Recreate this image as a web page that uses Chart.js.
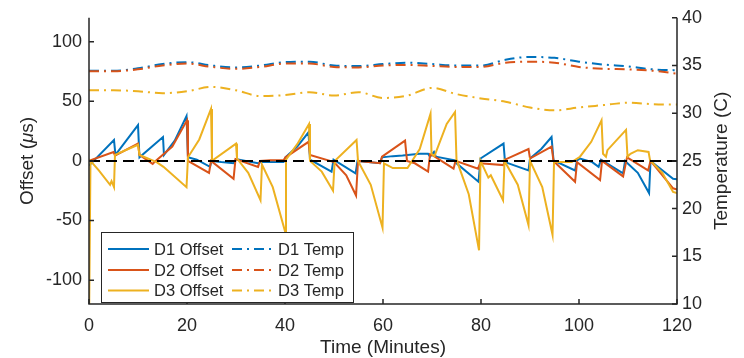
<!DOCTYPE html>
<html>
<head>
<meta charset="utf-8">
<script src="https://cdn.jsdelivr.net/npm/chart.js@4/dist/chart.umd.min.js"></script>
<style>
    html, body { margin: 0; padding: 0; background: #fff; }
    #chart { display: block; }
</style>
</head>
<body>
<canvas id="chart" width="744" height="358"></canvas>
<script>
// [minutes, microseconds]
const d1Offset = [[0,-4],[5.1,17.5],[5.4,5],[10,30],[10.3,3],[15.1,20],[15.3,5],[17.5,17],[19.9,37.5],[20.2,3],[22,1],[24.7,-5],[25,0],[27,-1],[29.5,-2],[30,1.5],[32,0],[34.5,-2],[35,-1],[37,-1],[39.7,-1],[40.1,3],[42.5,12],[44.8,24],[45.1,1],[49.5,-9],[49.9,1],[54.4,-10.5],[54.8,0],[57,-1],[59.4,-2],[59.8,3],[62,4],[64,4.5],[67.5,6],[69.2,6],[69.6,3.5],[70.4,7.5],[70.8,3.5],[74.7,0.5],[75,-2],[79.5,-17.5],[79.9,2],[84.6,14.5],[84.9,-1],[89.7,-8],[90,2],[92.3,10],[94.4,20],[94.8,0.5],[99.2,-8],[99.6,0.5],[100.2,2],[102.7,-1],[104,-5],[104.5,1],[109,-10.5],[109.4,0],[112,-10],[114.3,-27],[114.6,0],[119.2,-15],[120,-15.5]];
const d2Offset = [[0,0],[5,7.5],[5.3,4.5],[10,14.5],[10.3,5],[13,-2.5],[13.6,0],[17,12],[20,34],[20.2,0],[24.5,-10],[24.9,0],[29.5,-15],[29.9,1.5],[34.5,-5],[34.9,0],[37,0.5],[39.7,0.5],[40.1,3],[44.8,16],[45.1,5],[50,-1],[52.5,-12],[54.5,-29],[54.9,0],[57,-1],[59.4,-2],[59.8,3.5],[64.5,17],[64.9,0],[66.5,-2],[69.2,-9],[69.6,5.5],[70.4,4],[74.4,-6.5],[74.8,0],[79.4,-6.5],[79.8,-2],[84.6,-3.5],[84.9,1],[89.7,10],[90,2],[94.4,12],[94.8,0],[99.2,-17.5],[99.6,-1],[104.3,-16],[104.7,0],[109,-13],[109.8,3],[114.1,-8],[114.6,0],[119.2,-23],[120,-24]];
const d3Offset = [[0,-140],[0.3,0],[2,-8],[4.3,-20],[4.6,-17],[5.1,-22],[5.3,5],[10,13.5],[10.3,5],[13.8,-1],[15.2,-5],[19.9,-22],[20.2,3],[22.5,18],[24.9,43.6],[25.1,0],[30,14.5],[30.2,2],[32.5,-10],[35,-33],[35.3,-3],[37.5,-22],[40,-59],[40.2,1],[42.5,14],[44.9,31],[45.1,0],[47.5,-9],[49.8,-25],[50.1,-3],[50.4,1],[54.6,17.5],[54.9,0],[57.5,-20],[59.9,-56],[60.2,-2],[62,-6],[65,-6],[67.5,10],[69.7,39.5],[69.9,6],[70.5,4],[73,31],[74.7,41],[75,1],[77.5,-28],[79.6,-75],[79.9,0],[81.5,-14],[82,-12],[84.5,-33],[84.8,0],[87.5,-20],[89.7,-54],[90,0],[92.5,-22],[94.6,-62],[94.9,-1],[98.5,-1],[100.2,3.5],[102.5,16],[104.6,34],[104.9,6],[105.5,3.5],[105.8,9],[109.6,26],[109.9,3.5],[110.5,6],[112,9],[114.2,7.5],[114.5,0.5],[117,-10],[119.2,-26],[120,-27]];

const tempTimes = [0,5,10,15,20,25,30,35,40,45,50,55,60,65,70,75,80,85,90,95,100,105,110,115,120];
const d1Temp = [34.45,34.45,34.7,35.15,35.35,35.0,34.8,35.0,35.35,35.4,35.0,34.95,35.15,35.3,35.15,35.0,35.0,35.6,35.9,35.8,35.4,35.1,34.9,34.6,34.5];
const d2Temp = [34.4,34.4,34.6,35.0,35.2,34.85,34.65,34.85,35.2,35.2,34.85,34.8,35.0,35.05,34.95,34.85,34.85,35.3,35.4,35.3,34.85,34.65,34.6,34.45,34.15];
const d3Temp = [32.4,32.4,32.3,32.1,32.3,32.75,32.4,31.8,31.9,32.2,31.85,32.2,31.6,31.85,32.65,32.0,31.55,31.2,30.6,30.3,30.6,30.85,31.1,30.95,30.9];

const timeTicks = [0,20,40,60,80,100,120];
const offsetTicks = [-100,-50,0,50,100];
const tempTicks = [10,15,20,25,30,35,40];

const colors = ['#0072BD', '#D95319', '#EDB120'];
const axisColor = '#262626';
const fontFamily = '"Liberation Sans", Arial, Helvetica, sans-serif';
const dashDot = [10, 5, 2, 5];

const toPoints = arr => arr.map(p => ({x: p[0], y: p[1]}));
const tempPoints = vals => vals.map((v, i) => ({x: tempTimes[i], y: v}));

const legendItems = [
    {text: 'D1 Offset', color: colors[0], dash: []},
    {text: 'D2 Offset', color: colors[1], dash: []},
    {text: 'D3 Offset', color: colors[2], dash: []},
    {text: 'D1 Temp', color: colors[0], dash: dashDot},
    {text: 'D2 Temp', color: colors[1], dash: dashDot},
    {text: 'D3 Temp', color: colors[2], dash: dashDot},
];

// draws pieces of text one after the other, centred as a whole
function drawPieces(ctx, pieces, cx, cy) {
    let total = 0;
    pieces.forEach(p => { ctx.font = p.font; total += ctx.measureText(p.text).width; });
    let x = cx - total / 2;
    ctx.textAlign = 'left';
    pieces.forEach(p => {
        ctx.font = p.font;
        ctx.fillText(p.text, x, cy);
        x += ctx.measureText(p.text).width;
    });
}

const framePlugin = {
    id: 'frame',
    afterDraw(chart) {
        const ctx = chart.ctx;
        const a = chart.chartArea;
        const sx = chart.scales.x, sy = chart.scales.y, sy2 = chart.scales.y2;
        ctx.save();
        ctx.strokeStyle = axisColor;
        ctx.lineWidth = 1.5;
        ctx.setLineDash([]);
        ctx.beginPath();
        ctx.moveTo(a.left, a.top);
        ctx.lineTo(a.left, a.bottom);
        ctx.lineTo(a.right, a.bottom);
        ctx.lineTo(a.right, a.top);
        ctx.stroke();
        const tl = 5;
        ctx.beginPath();
        timeTicks.forEach(v => {
            const px = sx.getPixelForValue(v);
            ctx.moveTo(px, a.bottom);
            ctx.lineTo(px, a.bottom - tl);
        });
        offsetTicks.forEach(v => {
            const py = sy.getPixelForValue(v);
            ctx.moveTo(a.left, py);
            ctx.lineTo(a.left + tl, py);
        });
        tempTicks.forEach(v => {
            const py = sy2.getPixelForValue(v);
            ctx.moveTo(a.right, py);
            ctx.lineTo(a.right - tl, py);
        });
        ctx.stroke();

        // axis titles
        const titleFont = '19px ' + fontFamily;
        ctx.fillStyle = axisColor;
        ctx.font = titleFont;
        ctx.textAlign = 'center';
        ctx.textBaseline = 'middle';
        ctx.fillText('Time (Minutes)', (a.left + a.right) / 2, 348);
        ctx.save();
        ctx.translate(28, (a.top + a.bottom) / 2);
        ctx.rotate(-Math.PI / 2);
        drawPieces(ctx, [
            {text: 'Offset (', font: titleFont},
            {text: 'μ', font: 'italic ' + titleFont},
            {text: 's)', font: titleFont}
        ], 0, 0);
        ctx.restore();
        ctx.save();
        ctx.font = titleFont;
        ctx.textAlign = 'center';
        ctx.translate(722, (a.top + a.bottom) / 2);
        ctx.rotate(-Math.PI / 2);
        ctx.fillText('Temperature (C)', 0, 0);
        ctx.restore();

        // legend
        const bx = 101, by = 232, bw = 252, bh = 70;
        ctx.fillStyle = '#fff';
        ctx.fillRect(bx, by, bw, bh);
        ctx.lineWidth = 1;
        ctx.strokeStyle = axisColor;
        ctx.strokeRect(bx + 0.5, by + 0.5, bw, bh);
        ctx.font = '16.5px ' + fontFamily;
        ctx.textAlign = 'left';
        const rows = [249, 270, 290.5];
        legendItems.forEach((item, i) => {
            const col = Math.floor(i / 3);
            const row = i % 3;
            const lx = col === 0 ? 108 : 232;
            const y = rows[row];
            ctx.strokeStyle = item.color;
            ctx.lineWidth = 2;
            ctx.setLineDash(item.dash);
            ctx.beginPath();
            ctx.moveTo(lx, y);
            ctx.lineTo(lx + 41, y);
            ctx.stroke();
            ctx.setLineDash([]);
            ctx.fillStyle = axisColor;
            ctx.fillText(item.text, lx + 46, y + 1);
        });
        ctx.restore();
    }
};

const offsetSet = (label, data, color, order) => ({
    label, data: toPoints(data), yAxisID: 'y', borderColor: color, borderWidth: 2,
    pointRadius: 0, tension: 0, order
});
const tempSet = (label, data, color, order) => ({
    label, data: tempPoints(data), yAxisID: 'y2', borderColor: color, borderWidth: 2,
    borderDash: dashDot, pointRadius: 0, cubicInterpolationMode: 'monotone', order
});

const tickFont = {size: 18, family: fontFamily};

new Chart(document.getElementById('chart'), {
    type: 'line',
    data: {
        datasets: [
            {label: 'zero', data: [{x: 0, y: 0}, {x: 120, y: 0}], yAxisID: 'y', borderColor: '#000',
                borderWidth: 2, borderDash: [11, 6], pointRadius: 0, order: 0},
            offsetSet('D3 Offset', d3Offset, colors[2], 1),
            offsetSet('D2 Offset', d2Offset, colors[1], 2),
            offsetSet('D1 Offset', d1Offset, colors[0], 3),
            tempSet('D3 Temp', d3Temp, colors[2], 4),
            tempSet('D2 Temp', d2Temp, colors[1], 5),
            tempSet('D1 Temp', d1Temp, colors[0], 6),
        ]
    },
    options: {
        responsive: false,
        animation: false,
        devicePixelRatio: 1,
        layout: {padding: {top: 15, left: 0, right: 0, bottom: 0}},
        plugins: {legend: {display: false}, tooltip: {enabled: false}},
        scales: {
            x: {
                type: 'linear', position: 'bottom', min: 0, max: 120,
                grid: {display: false, drawTicks: false, tickLength: 0}, border: {display: false},
                ticks: {color: axisColor, font: tickFont, padding: 11, maxRotation: 0},
                afterBuildTicks: s => { s.ticks = timeTicks.map(v => ({value: v})); },
                afterFit: s => { s.height = 54; }
            },
            y: {
                type: 'linear', position: 'left', min: -120, max: 120,
                grid: {display: false, drawTicks: false, tickLength: 0}, border: {display: false},
                ticks: {color: axisColor, font: tickFont, padding: 7},
                afterBuildTicks: s => { s.ticks = offsetTicks.map(v => ({value: v})); },
                afterFit: s => { s.width = 89; }
            },
            y2: {
                type: 'linear', position: 'right', min: 10, max: 40,
                grid: {display: false, drawTicks: false, tickLength: 0}, border: {display: false},
                ticks: {color: axisColor, font: tickFont, padding: 5},
                afterBuildTicks: s => { s.ticks = tempTicks.map(v => ({value: v})); },
                afterFit: s => { s.width = 67; }
            }
        }
    },
    plugins: [framePlugin]
});
</script>
</body>
</html>
